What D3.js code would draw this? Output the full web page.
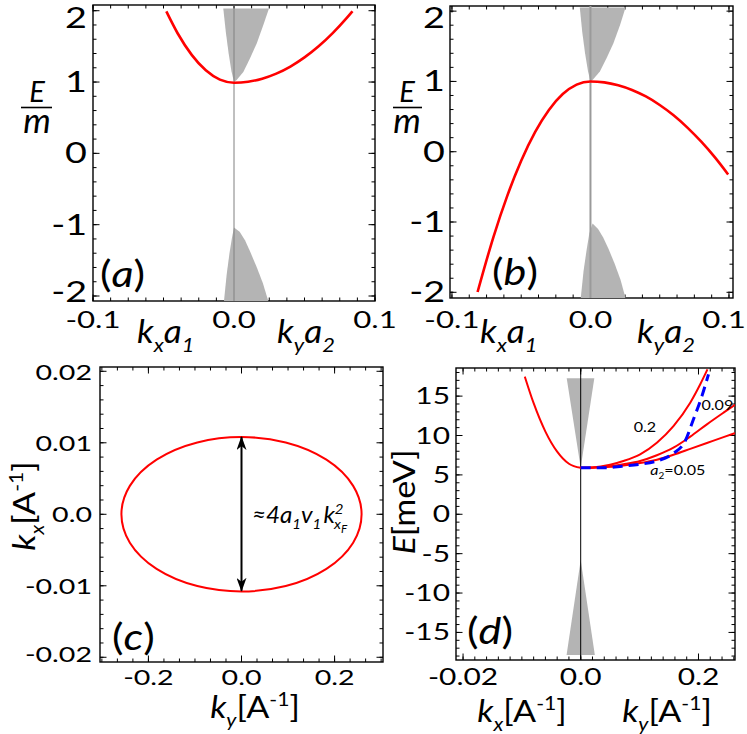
<!DOCTYPE html>
<html>
<head>
<meta charset="utf-8">
<script src="https://cdn.jsdelivr.net/npm/d3@7"></script>
<style>
  body { margin: 0; background: #fff; }
  svg { display: block; }
  text { font-family: Lato, "Open Sans", sans-serif; fill: #000; }
</style>
</head>
<body>
<div id="chart"></div>
<script>
const W = 747, H = 734;

// ---- panel (a): E/m vs k a (left side kx a1, right side ky a2)
const kaA = [-0.048, -0.04, -0.03, -0.02, -0.01, 0, 0.01, 0.02, 0.03, 0.04, 0.05, 0.06, 0.07, 0.08, 0.084];
const eA = [1.99, 1.684, 1.381, 1.164, 1.033, 0.99, 1.004, 1.047, 1.118, 1.217, 1.345, 1.501, 1.686, 1.899, 1.992];
const bandUpA = [[-0.0076, 2.03], [-0.0058, 1.7], [-0.0038, 1.4], [-0.0018, 1.15], [0, 1.0],
  [0.0019, 1.03], [0.0066, 1.14], [0.0113, 1.33], [0.0161, 1.54], [0.0208, 1.8], [0.0248, 2.03]];
const bandLoA = [[-0.0071, -2.07], [-0.0052, -1.7], [-0.0032, -1.4], [-0.0014, -1.18], [0, -1.04],
  [0.004, -1.1], [0.0078, -1.22], [0.0115, -1.38], [0.016, -1.59], [0.0205, -1.82], [0.0243, -2.07]];

// ---- panel (b)
const kaB = [-0.0815, -0.07, -0.06, -0.05, -0.04, -0.03, -0.02, -0.01, 0, 0.01, 0.02, 0.03, 0.04, 0.05, 0.06, 0.07, 0.08, 0.09, 0.0994];
const eB = [-1.996, -1.21, -0.624, -0.128, 0.278, 0.594, 0.82, 0.955, 1.0, 0.987, 0.946, 0.879, 0.786, 0.665, 0.518, 0.343, 0.142, -0.085, -0.324];
const bandUpB = [[-0.0077, 2.05], [-0.0059, 1.7], [-0.0039, 1.4], [-0.0018, 1.15], [0, 1.0],
  [0.002, 1.03], [0.0068, 1.14], [0.0116, 1.33], [0.0165, 1.54], [0.0213, 1.8], [0.0253, 2.05]];
const bandLoB = [[-0.007, -2.08], [-0.005, -1.7], [-0.0028, -1.4], [-0.0008, -1.16], [0.0015, -1.02],
  [0.0055, -1.1], [0.0092, -1.22], [0.013, -1.38], [0.0174, -1.59], [0.0217, -1.82], [0.0253, -2.08]];

// ---- panel (c): Fermi contour, semi-axes in A^-1
const ellipseC = { ky: 0.258, kx: 0.0108 };
const arrowC = [-0.0107, 0.0108];

// ---- panel (d): E [meV]; left branch vs kx, right branches vs ky
const kxD = [-0.0095, -0.008, -0.006, -0.004, -0.002, 0];
const eLeftD = [17.47, 14.1, 10.5, 7.95, 6.41, 5.9];
const kyTop = [0, 0.02, 0.05, 0.0724, 0.1009, 0.1293, 0.1575, 0.186, 0.203, 0.2153];
const eTop = [5.9, 5.95, 6.3, 6.76, 7.61, 9.09, 11.2, 14.16, 16.5, 18.4];
const kyMid = [0, 0.02, 0.05, 0.0724, 0.1009, 0.1293, 0.1575, 0.186, 0.2143, 0.2425, 0.262];
const eMid = [5.9, 5.93, 6.1, 6.35, 6.76, 7.49, 8.45, 9.85, 11.42, 12.9, 13.9];
const eLow = [5.9, 5.92, 6.02, 6.2, 6.5, 6.92, 7.55, 8.3, 9.05, 9.8, 10.3];
const kyBlue = [0, 0.02, 0.044, 0.07, 0.1009, 0.1293, 0.1575, 0.1774, 0.1915, 0.2058, 0.217];
const eBlue = [5.9, 5.9, 5.92, 6.1, 6.35, 6.76, 7.74, 9.3, 12.06, 15.0, 17.77];
const coneUpD = [[-0.00238, 17.26], [0, 5.9], [0.0231, 17.26]];
const coneLoD = [[-0.0024, -17.86], [0, -5.8], [0.024, -17.86]];
const curveLabelsD = [
  { ky: 0.109, e: 10.4, t: "0.2" },
  { ky: 0.232, e: 13.3, t: "0.09" },
];

// tick values and labels
const yTicksAB = [-2, -1, 0, 1, 2];
const xTicksAB = [-0.1, 0, 0.1];
const xLabelsAB = ["-0.1", "0.0", "0.1"];
const yTicksC = [-0.02, -0.01, 0, 0.01, 0.02];
const yLabelsC = ["-0.02", "-0.01", "0.0", "0.01", "0.02"];
const xTicksC = [-0.2, 0, 0.2];
const xLabelsC = ["-0.2", "0.0", "0.2"];
const yTicksD = [-15, -10, -5, 0, 5, 10, 15];
const xTicksD = [-0.02, 0, 0.2];
const xLabelsD = ["-0.02", "0.0", "0.2"];

const svg = d3.select("#chart").append("svg").attr("width", W).attr("height", H);

const defs = svg.append("defs");
defs.append("marker")
  .attr("id", "head")
  .attr("markerUnits", "userSpaceOnUse")
  .attr("viewBox", "0 0 14 10")
  .attr("refX", 13).attr("refY", 5)
  .attr("markerWidth", 14).attr("markerHeight", 10)
  .attr("orient", "auto-start-reverse")
  .append("path")
  .attr("d", "M0,0 L14,5 L0,10 L4,5 Z")
  .attr("fill", "#000");

// scales, one pair per panel
const A = {
  x: d3.scaleLinear().domain([-0.1, 0.1]).range([93, 375]),
  y: d3.scaleLinear().domain([-2.07, 2.08]).range([301, 5]),
};
const B = {
  x: d3.scaleLinear().domain([-0.1014, 0.1029]).range([450, 733]),
  y: d3.scaleLinear().domain([-2.081, 2.073]).range([298, 6]),
};
const C = {
  x: d3.scaleLinear().domain([-0.304, 0.304]).range([100, 383]),
  y: d3.scaleLinear().domain([-0.02066, 0.0206]).range([662, 367]),
};
const D = {
  x: d3.scaleLinear().domain([-0.0212, 0, 0.262]).range([456, 580.7, 735]),
  y: d3.scaleLinear().domain([-18.5, 18.57]).range([660, 368]),
};

function label(x, y, parts, o = {}) {
  const size = o.size || 20, sx = o.sx || 1.25;
  const t = svg.append("text")
    .attr("transform", `translate(${x},${y}) rotate(${o.rotate || 0}) scale(${sx},1)`)
    .attr("text-anchor", o.anchor || "start")
    .attr("font-size", size);
  let shift = 0;
  parts.forEach(p => {
    if (typeof p === "string") p = { t: p };
    const s = t.append("tspan").text(p.t);
    const target = p.ss ? size * 0.45 : p.sub ? size * 0.28 : p.sup ? -size * 0.4 : 0;
    if (target !== shift) { s.attr("dy", target - shift); shift = target; }
    if (p.dx) s.attr("dx", p.dx);
    if (p.ss) s.attr("font-size", size * 0.48);
    else if (p.sub || p.sup) s.attr("font-size", size * 0.62);
    if (p.i) s.attr("font-style", "italic");
  });
  return t;
}

// E over m, as one text with a bar
function fraction(cx, x0, x1) {
  const t = svg.append("text").attr("text-anchor", "middle").attr("font-style", "italic");
  t.append("tspan").attr("x", cx).attr("y", 102).attr("font-size", 29).text("E");
  t.append("tspan").attr("x", cx).attr("y", 133).attr("font-size", 35).text("m");
  svg.append("line").attr("x1", x0).attr("x2", x1).attr("y1", 107.5).attr("y2", 107.5)
    .attr("stroke", "#000").attr("stroke-width", 1.6);
}

function frame(P, xMajor, xMinor, yMajor, yMinor, id) {
  const [x0, x1] = d3.extent(P.x.range());
  const [y0, y1] = d3.extent(P.y.range());
  const g = svg.append("g").attr("stroke", "#000").attr("stroke-width", 1);
  const tick = (v, len, axis) => {
    if (axis === "x") {
      const px = P.x(v);
      g.append("line").attr("x1", px).attr("x2", px).attr("y1", y1).attr("y2", y1 - len);
      g.append("line").attr("x1", px).attr("x2", px).attr("y1", y0).attr("y2", y0 + len);
    } else {
      const py = P.y(v);
      g.append("line").attr("y1", py).attr("y2", py).attr("x1", x0).attr("x2", x0 + len);
      g.append("line").attr("y1", py).attr("y2", py).attr("x1", x1).attr("x2", x1 - len);
    }
  };
  xMinor.forEach(v => tick(v, 3.5, "x"));
  xMajor.forEach(v => tick(v, 6.5, "x"));
  yMinor.forEach(v => tick(v, 3.5, "y"));
  yMajor.forEach(v => tick(v, 6.5, "y"));
  g.append("rect").attr("x", x0).attr("y", y0).attr("width", x1 - x0).attr("height", y1 - y0)
    .attr("fill", "none").attr("stroke-width", 1.4);
  defs.append("clipPath").attr("id", id).append("rect")
    .attr("x", x0).attr("y", y0).attr("width", x1 - x0).attr("height", y1 - y0);
  return svg.append("g").attr("clip-path", `url(#${id})`);
}

const steps = (a, b, s) => d3.range(Math.round((b - a) / s) + 1).map(i => a + i * s);
const area = P => d3.line().x(d => P.x(d[0])).y(d => P.y(d[1])).curve(d3.curveLinear);
const curve = (P, xs, ys) => d3.line().x((d, i) => P.x(xs[i])).y((d, i) => P.y(ys[i])).curve(d3.curveMonotoneX)(xs);
const GRAY = "#b4b4b4";

// ---------------- panel (a) and (b)
[[A, kaA, eA, bandUpA, bandLoA, "#808080", 1, 87, "a"], [B, kaB, eB, bandUpB, bandLoB, "#9a9a9a", 2, 445, "b"]]
  .forEach(([P, ks, es, up, lo, vcol, vw, yl, id]) => {
    const xMinor = steps(-0.1, 0.1, 0.0125).filter(v => v >= P.x.domain()[0] && v <= P.x.domain()[1]);
    const g = frame(P, xTicksAB, xMinor, yTicksAB, steps(-2, 2, 0.2), "clip" + id);
    g.append("path").attr("d", area(P)(up) + "Z").attr("fill", GRAY);
    g.append("path").attr("d", area(P)(lo) + "Z").attr("fill", GRAY);
    g.append("line").attr("x1", P.x(0)).attr("x2", P.x(0))
      .attr("y1", P.y.range()[0]).attr("y2", P.y.range()[1])
      .attr("stroke", vcol).attr("stroke-width", vw);
    g.append("path").attr("d", curve(P, ks, es))
      .attr("fill", "none").attr("stroke", "#ff0000").attr("stroke-width", 2.6);

    // labels are kept inside the picture like the original renderer does
    yTicksAB.forEach(v => label(yl, Math.min(Math.max(P.y(v) + 10, 28), 302), [String(v)], { size: 29, anchor: "end", sx: 1.3 }));
    xTicksAB.forEach((v, i) => label(Math.min(P.x(v), 724), 328, [xLabelsAB[i]], { size: 24, anchor: "middle", sx: 1.3 }));
  });

// axis labels (a)
label(137, 343, [{ t: "k", i: true }, { t: "x", i: true, sub: true }, { t: "a", i: true }, { t: "1", i: true, sub: true }], { size: 32, sx: 1.1 });
label(277, 343, [{ t: "k", i: true }, { t: "y", i: true, sub: true }, { t: "a", i: true }, { t: "2", i: true, sub: true }], { size: 32, sx: 1.1 });
fraction(37, 21, 52);
label(100, 287, ["(", { t: "a", i: true }, ")"], { size: 36, sx: 1.2 });

// axis labels (b)
label(480, 343, [{ t: "k", i: true }, { t: "x", i: true, sub: true }, { t: "a", i: true }, { t: "1", i: true, sub: true }], { size: 32, sx: 1.1 });
label(637, 343, [{ t: "k", i: true }, { t: "y", i: true, sub: true }, { t: "a", i: true }, { t: "2", i: true, sub: true }], { size: 32, sx: 1.1 });
fraction(407, 393, 422);
label(492, 285, ["(", { t: "b", i: true }, ")"], { size: 36, sx: 1.2 });

// ---------------- panel (c)
{
  const g = frame(C, xTicksC, steps(-0.3, 0.3, 0.1 / 3), yTicksC, steps(-0.02, 0.02, 0.002), "clipc");
  g.append("ellipse")
    .attr("cx", C.x(0)).attr("cy", C.y(0))
    .attr("rx", C.x(ellipseC.ky) - C.x(0)).attr("ry", C.y(0) - C.y(ellipseC.kx))
    .attr("fill", "none").attr("stroke", "#ff0000").attr("stroke-width", 2);
  g.append("line")
    .attr("x1", C.x(0)).attr("x2", C.x(0))
    .attr("y1", C.y(arrowC[0])).attr("y2", C.y(arrowC[1]))
    .attr("stroke", "#000").attr("stroke-width", 2)
    .attr("marker-start", "url(#head)").attr("marker-end", "url(#head)");

  yTicksC.forEach((v, i) => label(92, Math.min(Math.max(C.y(v) + 8, 380), 662), [yLabelsC[i]], { size: 22, anchor: "end", sx: 1.3 }));
  xTicksC.forEach((v, i) => label(C.x(v), 685, [xLabelsC[i]], { size: 22, anchor: "middle", sx: 1.3 }));
  label(255, 718, [{ t: "k", i: true }, { t: "y", i: true, sub: true }, "[A", { t: "-1", sup: true }, "]"], { size: 31, anchor: "middle", sx: 1.1 });
  label(35, 506, [{ t: "k", i: true }, { t: "x", i: true, sub: true }, "[A", { t: "-1", sup: true }, "]"], { size: 31, anchor: "middle", sx: 1.1, rotate: -90 });
  label(112, 650, ["(", { t: "c", i: true }, ")"], { size: 36, sx: 1.2 });
  label(252, 523, [{ t: "≈4a", i: true }, { t: "1", i: true, sub: true }, { t: "v", i: true }, { t: "1", i: true, sub: true },
    { t: "k", i: true, dx: 2 }, { t: "2", i: true, sup: true }, { t: "x", i: true, sub: true, dx: -9 }, { t: "F", i: true, ss: true }],
    { size: 23, sx: 1.05 });
}

// ---------------- panel (d)
{
  const xMinor = steps(-0.02, 0, 0.002).concat(steps(0, 0.26, 0.02));
  const g = frame(D, xTicksD, xMinor, yTicksD, steps(-18, 18, 1), "clipd");
  g.append("path").attr("d", area(D)(coneUpD) + "Z").attr("fill", GRAY);
  g.append("path").attr("d", area(D)(coneLoD) + "Z").attr("fill", GRAY);
  g.append("line").attr("x1", D.x(0)).attr("x2", D.x(0))
    .attr("y1", D.y.range()[0]).attr("y2", D.y.range()[1])
    .attr("stroke", "#000").attr("stroke-width", 1);
  const red = d => g.append("path").attr("d", d).attr("fill", "none").attr("stroke", "#ff0000").attr("stroke-width", 2);
  red(curve(D, kxD, eLeftD));
  red(curve(D, kyTop, eTop));
  red(curve(D, kyMid, eMid));
  red(curve(D, kyMid, eLow));
  g.append("path").attr("d", curve(D, kyBlue, eBlue))
    .attr("fill", "none").attr("stroke", "#0000ff").attr("stroke-width", 3).attr("stroke-dasharray", "10,6");

  curveLabelsD.forEach(c => label(D.x(c.ky), D.y(c.e), [c.t], { size: 14, anchor: "middle", sx: 1.15 }));
  label(D.x(0.165), D.y(5.0), [{ t: "a", i: true }, { t: "2", sub: true }, "=0.05"], { size: 14, anchor: "middle", sx: 1.15 });

  yTicksD.forEach(v => label(450, D.y(v) + 8, [String(v)], { size: 23, anchor: "end", sx: 1.3 }));
  xTicksD.forEach((v, i) => label(D.x(v), 685, [xLabelsD[i]], { size: 23, anchor: "middle", sx: 1.3 }));
  label(415, 502, [{ t: "E", i: true }, "[meV]"], { size: 31, anchor: "middle", sx: 1.1, rotate: -90 });
  label(522, 722, [{ t: "k", i: true }, { t: "x", i: true, sub: true }, "[A", { t: "-1", sup: true }, "]"], { size: 31, anchor: "middle", sx: 1.1 });
  label(667, 722, [{ t: "k", i: true }, { t: "y", i: true, sub: true }, "[A", { t: "-1", sup: true }, "]"], { size: 31, anchor: "middle", sx: 1.1 });
  label(467, 644, ["(", { t: "d", i: true }, ")"], { size: 36, sx: 1.2 });
}
</script>
</body>
</html>
